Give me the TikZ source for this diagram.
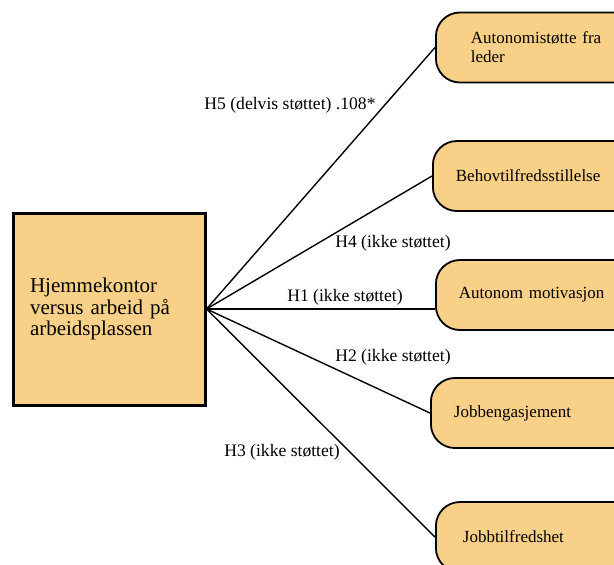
\documentclass[tikz,border=0pt]{standalone}
\usepackage{fontspec}
\setmainfont{Liberation Serif}
\usepackage{tikz}
\usetikzlibrary{positioning, calc}
\definecolor{boxfill}{RGB}{248,208,136}
\tikzset{%
	cause/.style={draw, line width=1.5pt, fill=boxfill, minimum width=96pt, minimum height=96pt,%
		text width=79pt, inner xsep=8.5pt, align=left, font=\fontsize{10.5}{10.8}\selectfont},
	effect/.style={draw, line width=0.9pt, fill=boxfill, rounded corners=12pt, minimum height=35pt,%
		text width=85pt, align=left, anchor=west, font=\fontsize{8.5}{9.5}\selectfont},
	link/.style={line width=0.7pt},
	hyp/.style={inner sep=1pt, font=\fontsize{8.8}{10}\selectfont}
}

\begin{document}
\begin{tikzpicture}[x=0.5pt, y=-0.5pt]
	\useasboundingbox (0,0) rectangle (614,564);
	\clip (0,0) rectangle (614,564);

	\node[cause] (src) at (109,309) {Hjemmekontor\\versus arbeid på\\arbeidsplassen};

	\node[effect, inner xsep=17.5pt] (ast) at (435,47.5) {Autonomistøtte fra\\leder};
	\node[effect, inner xsep=11.5pt] (beh) at (432,176) {Behovtilfredsstillelse};
	\node[effect, inner xsep=11.5pt] (mot) at (435,295) {Autonom motivasjon};
	\node[effect, inner xsep=11.5pt] (eng) at (430,413) {Jobbengasjement};
	\node[effect, inner xsep=13.5pt] (tilf) at (435,537) {Jobbtilfredshet};

	\foreach \t in {ast,beh,eng,tilf}
		\draw[link] (src.east) -- (\t.west);
	\draw[link] (src.east) -- (src.east -| mot.west);

	\node[hyp] (h5) at (290,105) {H5 (delvis støttet) .108*};
	\node[hyp] (h4) at (393,243) {H4 (ikke støttet)};
	\node[hyp] (h1) at (345,297) {H1 (ikke støttet)};
	\node[hyp] (h2) at (393,357) {H2 (ikke støttet)};
	\node[hyp] (h3) at (282,452) {H3 (ikke støttet)};
\end{tikzpicture}
\end{document}
